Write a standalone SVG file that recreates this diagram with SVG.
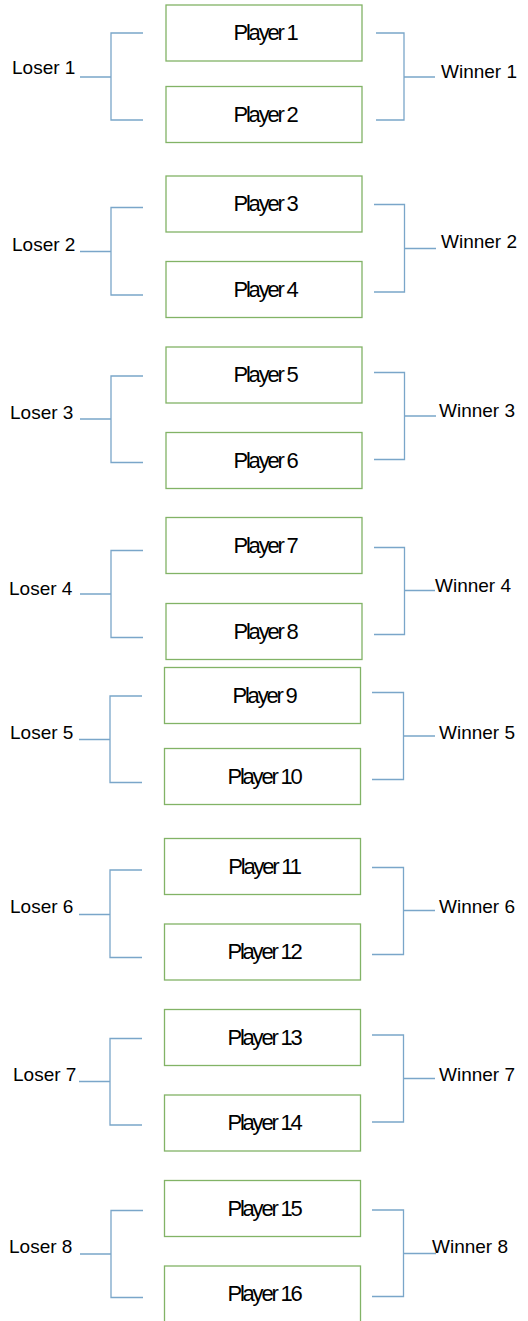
<svg xmlns="http://www.w3.org/2000/svg" width="528" height="1321" viewBox="0 0 528 1321">
<style>
.box{fill:#ffffff;stroke:#82b366;stroke-width:1.3}
.pt{font-family:"Liberation Sans",Arial,sans-serif;font-size:22px;letter-spacing:-2.2px;fill:#000;text-anchor:middle}
.lb{font-family:"Liberation Sans",Arial,sans-serif;font-size:19px;fill:#000}
.ln{fill:none;stroke:#7aa6c9;stroke-width:1.3}
</style>
<rect width="528" height="1321" fill="#ffffff"/>
<g id="connectors">
<path class="ln" d="M143,33H111V120H143M80,77H111"/>
<path class="ln" d="M376,33H404V120H376M404,77H435"/>
<path class="ln" d="M143,207.5H111V295H143M80,251.5H111"/>
<path class="ln" d="M374,204.5H404.5V292H374M404.5,248.5H436"/>
<path class="ln" d="M143,376H111V462.5H143M80,419H111"/>
<path class="ln" d="M374,372.5H404.5V459.5H374M404.5,416H436"/>
<path class="ln" d="M143,550.5H111V637.5H143M80,594H111"/>
<path class="ln" d="M374,547.5H404.5V634.5H374M404.5,590.5H435"/>
<path class="ln" d="M142,696H110V782.5H142M79,739.5H110"/>
<path class="ln" d="M372,692.5H403.5V779.5H372M403.5,736H435"/>
<path class="ln" d="M142,870H110V957.5H142M79,914.5H110"/>
<path class="ln" d="M372,867.5H403.5V954.5H372M403.5,910.5H435"/>
<path class="ln" d="M142,1038.5H110V1125H142M79,1081.5H110"/>
<path class="ln" d="M372,1035H403.5V1122H372M403.5,1078.5H435"/>
<path class="ln" d="M143,1210.5H111V1297.5H143M80,1254H111"/>
<path class="ln" d="M372,1210H403.5V1296.5H372M403.5,1253.5H436"/>
</g>
<g id="p1"><rect class="box" x="166" y="5" width="196" height="56"/><text class="pt" x="265" y="40">Player 1</text></g>
<g id="p2"><rect class="box" x="166" y="86.5" width="196" height="56"/><text class="pt" x="265" y="121.5">Player 2</text></g>
<g id="p3"><rect class="box" x="166" y="176" width="196" height="56"/><text class="pt" x="265" y="211">Player 3</text></g>
<g id="p4"><rect class="box" x="166" y="261.5" width="196" height="56"/><text class="pt" x="265" y="296.5">Player 4</text></g>
<g id="p5"><rect class="box" x="166" y="347" width="196" height="56"/><text class="pt" x="265" y="382">Player 5</text></g>
<g id="p6"><rect class="box" x="166" y="432.5" width="196" height="56"/><text class="pt" x="265" y="467.5">Player 6</text></g>
<g id="p7"><rect class="box" x="166" y="517.5" width="196" height="56"/><text class="pt" x="265" y="552.5">Player 7</text></g>
<g id="p8"><rect class="box" x="166" y="603.5" width="196" height="56"/><text class="pt" x="265" y="638.5">Player 8</text></g>
<g id="p9"><rect class="box" x="164.5" y="667.5" width="196" height="56"/><text class="pt" x="264" y="702.5">Player 9</text></g>
<g id="p10"><rect class="box" x="164.5" y="748.5" width="196" height="56"/><text class="pt" x="264" y="783.5">Player 10</text></g>
<g id="p11"><rect class="box" x="164.5" y="838.5" width="196" height="56"/><text class="pt" x="264" y="873.5">Player 11</text></g>
<g id="p12"><rect class="box" x="164.5" y="924" width="196" height="56"/><text class="pt" x="264" y="959">Player 12</text></g>
<g id="p13"><rect class="box" x="164.5" y="1009.5" width="196" height="56"/><text class="pt" x="264" y="1044.5">Player 13</text></g>
<g id="p14"><rect class="box" x="164.5" y="1095" width="196" height="56"/><text class="pt" x="264" y="1130">Player 14</text></g>
<g id="p15"><rect class="box" x="164.5" y="1180.5" width="196" height="56"/><text class="pt" x="264" y="1215.5">Player 15</text></g>
<g id="p16"><rect class="box" x="164.5" y="1266" width="196" height="56"/><text class="pt" x="264" y="1301">Player 16</text></g>
<g id="l1"><text class="lb" x="12" y="73.5">Loser 1</text></g>
<g id="w1"><text class="lb" x="441" y="77.5">Winner 1</text></g>
<g id="l2"><text class="lb" x="12" y="251">Loser 2</text></g>
<g id="w2"><text class="lb" x="441" y="248">Winner 2</text></g>
<g id="l3"><text class="lb" x="10" y="419">Loser 3</text></g>
<g id="w3"><text class="lb" x="439" y="417">Winner 3</text></g>
<g id="l4"><text class="lb" x="9" y="594.5">Loser 4</text></g>
<g id="w4"><text class="lb" x="435" y="591.5">Winner 4</text></g>
<g id="l5"><text class="lb" x="10" y="738.5">Loser 5</text></g>
<g id="w5"><text class="lb" x="439" y="738.5">Winner 5</text></g>
<g id="l6"><text class="lb" x="10" y="913">Loser 6</text></g>
<g id="w6"><text class="lb" x="439" y="913">Winner 6</text></g>
<g id="l7"><text class="lb" x="13" y="1080.5">Loser 7</text></g>
<g id="w7"><text class="lb" x="439" y="1080.5">Winner 7</text></g>
<g id="l8"><text class="lb" x="9" y="1253">Loser 8</text></g>
<g id="w8"><text class="lb" x="432" y="1253">Winner 8</text></g>
</svg>
